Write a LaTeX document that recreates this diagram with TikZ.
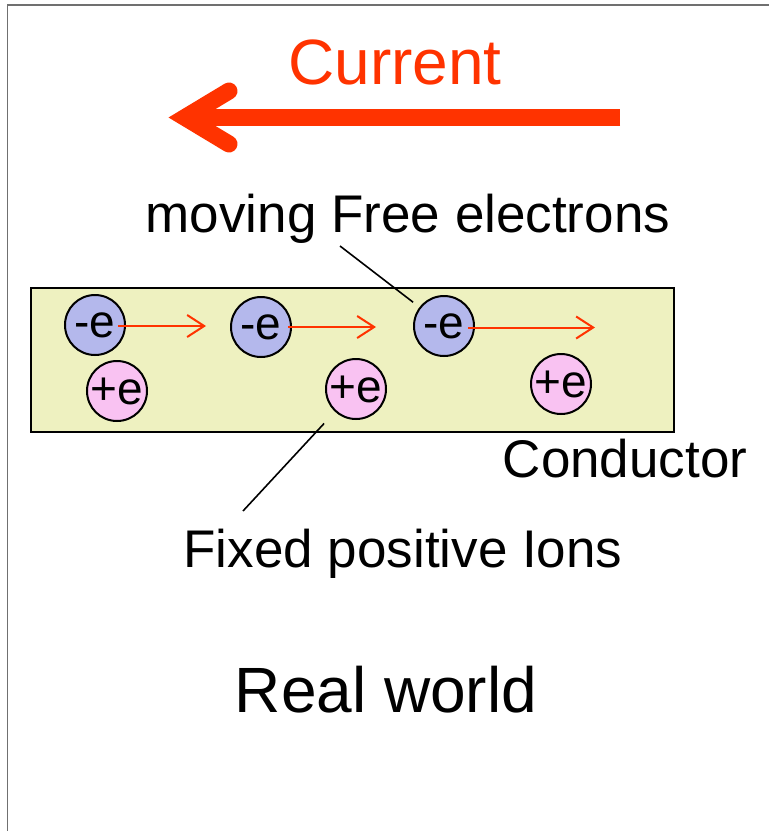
\documentclass[tikz,border=0pt]{standalone}
\usepackage{fontspec}
\setmainfont{Liberation Sans}
\usetikzlibrary{arrows.meta}

\definecolor{currentred}{HTML}{FF3300}
\definecolor{electronfill}{HTML}{B4B8EC}
\definecolor{ionfill}{HTML}{F9C2F2}
\definecolor{conductorfill}{HTML}{EEF1C0}
\definecolor{framegray}{HTML}{707070}

\newcommand{\fsz}[1]{\fontsize{#1}{#1}\selectfont}

\tikzset{
  particle/.style={circle, draw=black, line width=2pt, minimum size=60pt,
                   inner sep=0pt, font=\fsz{46}},
  electron/.style={particle, fill=electronfill},
  ion/.style={particle, fill=ionfill},
  label/.style={anchor=base, inner sep=0pt, font=\fsz{53}},
  title/.style={anchor=base, inner sep=0pt, font=\fsz{64}},
  drift/.style={draw=currentred, line width=2pt,
                -{Straight Barb[length=17pt,width=22pt,line width=2pt]}},
  leader/.style={draw=black, line width=1.6pt},
}

\begin{document}
\begin{tikzpicture}[x=1pt,y=-1pt]
\useasboundingbox (0,0) rectangle (769,831);

% frame edges (top and left)
\draw[framegray, line width=1.5pt] (769,5) -- (7.5,5) -- (7.5,831);

% current direction
\node[title, text=currentred] (cur) at (395,84) {Current};
\draw[currentred, line width=17pt, line cap=butt] (620,117.5) -- (190,117.5);
\draw[currentred, line width=17pt, line cap=round, line join=miter]
  (229,91) -- (185,117.5) -- (229,144);

% conductor body
\node[draw=black, line width=2pt, fill=conductorfill, minimum width=643pt,
      minimum height=144pt, inner sep=0pt] (cond) at (352.5,360) {};

% free electrons
\node[electron] (e1) at (95,325) {-e};
\node[electron] (e2) at (261,327) {-e};
\node[electron] (e3) at (444,326) {-e};

% fixed ions
\node[ion] (i1) at (117,391) {+e};
\node[ion] (i2) at (356,389) {+e};
\node[ion] (i3) at (561,384) {+e};

% drift of the electrons
\coordinate (d1) at (206,326);
\coordinate (d2) at (376,327);
\coordinate (d3) at (595,327.5);
\draw[drift] (118,326) -- (d1);
\draw[drift] (288,327) -- (d2);
\draw[drift] (468,327.5) -- (d3);

% labels and leaders
\node[label] (lfree) at (408,232) {moving Free electrons};
\coordinate (a1) at (340,246);
\draw[leader, shorten >=8pt] (a1) -- (e3);

\node[label] (lcond) at (625,477) {Conductor};

\node[label] (lions) at (403,567) {Fixed positive Ions};
\coordinate (a2) at (243,511);
\draw[leader, shorten >=16pt] (a2) -- (i2);

\node[title] (world) at (386,712) {Real world};
\end{tikzpicture}
\end{document}
